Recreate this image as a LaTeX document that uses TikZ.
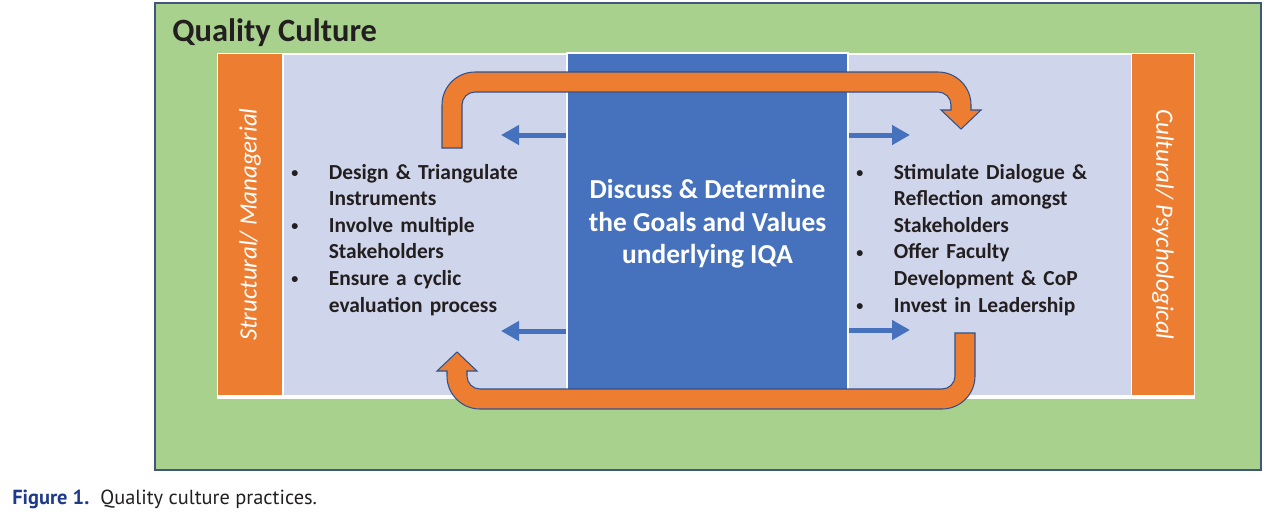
\documentclass[tikz,border=0pt]{standalone}
\usepackage{fontspec}
\setmainfont{Carlito}
\newfontfamily\captionfont{PT Sans}
\usetikzlibrary{arrows.meta,positioning}
\definecolor{culturegreen}{HTML}{A9D18E}
\definecolor{frameblue}{HTML}{41577A}
\definecolor{paneltint}{HTML}{CFD5EA}
\definecolor{goalblue}{HTML}{4671BC}
\definecolor{loopblue}{HTML}{2F528F}
\definecolor{dimorange}{HTML}{ED7D31}
\definecolor{inktext}{HTML}{231F20}
\definecolor{figblue}{HTML}{1F3A8A}
\tikzset{
	sidebar/.style={fill=dimorange, inner sep=0pt, minimum width=6.82cm, text=white, font=\fontsize{14.2}{17}\selectfont\itshape},
	goalbox/.style={fill=goalblue, draw=white, line width=0.8pt, minimum width=5.62cm, minimum height=6.74cm, inner sep=0pt, text depth=0pt, align=center, text=white, font=\fontsize{15.6}{18.5}\selectfont\bfseries},
	practices/.style={anchor=base west, text width=5.6cm, align=left, inner sep=0pt, text=inktext, font=\fontsize{12.2}{15.14}\selectfont\bfseries},
	spread/.style={draw=goalblue, line width=0.1cm, -{Triangle[width=0.38cm,length=0.36cm]}},
	loop/.style={fill=dimorange, draw=loopblue, line width=0.6pt},
}
\newcommand{\practice}[1]{\makebox[0.75cm][l]{\raisebox{0.9pt}{\fontsize{8}{8}\selectfont\textbullet}}#1}
\newcommand{\carry}[1]{\hspace*{0.75cm}#1}

\begin{document}
\begin{tikzpicture}[x=0.02cm, y=-0.02cm]
	\useasboundingbox[fill=white] (0,0) rectangle (1266,512);
	\draw[fill=culturegreen, draw=frameblue, line width=0.6pt] (155,3) rectangle (1261,470);
	\node[anchor=base west, inner sep=0pt, text=inktext, font=\fontsize{18.5}{22}\selectfont\bfseries] (title) at (172,41) {Quality Culture};
	
	\fill[white] (217,53) rectangle (1195,399);
	\fill[paneltint] (283.5,54.5) rectangle (1130.5,395);
	\node[sidebar, rotate=90, minimum height=1.28cm] (structural) at (250,224.5) {Structural/ Managerial};
	\node[sidebar, rotate=-90, minimum height=1.24cm] (cultural) at (1163,224.5) {Cultural/ Psychological};
	\node[goalbox] (goals) at (707.5,221.5) {Discuss \& Determine\\the Goals and Values\\underlying IQA};
	
	\node[practices] (structlist) at (291,179) {\practice{Design \& Triangulate}\\ \carry{Instruments}\\ \practice{Involve multiple}\\ \carry{Stakeholders}\\ \practice{Ensure a cyclic}\\ \carry{evaluation process}};
	\node[practices] (culturelist) at (856,179) {\practice{Stimulate Dialogue \&}\\ \carry{Reflection amongst}\\ \carry{Stakeholders}\\ \practice{Offer Faculty}\\ \carry{Development \& CoP}\\ \practice{Invest in Leadership}};
	
	\coordinate (outTL) at (501,135);
	\coordinate (outBL) at (501,331);
	\coordinate (outTR) at (910,135);
	\coordinate (outBR) at (910,330);
	\draw[spread] (goals.west |- outTL) -- (outTL);
	\draw[spread] (goals.west |- outBL) -- (outBL);
	\draw[spread] (goals.east |- outTR) -- (outTR);
	\draw[spread] (goals.east |- outBR) -- (outBR);
	
	% feedback loops
	\filldraw[loop] (442,148) -- (442,105) arc[start angle=180, end angle=270, radius=33] -- (938,72) arc[start angle=270, end angle=360, radius=33] -- (971,110) -- (981,110) -- (961,129) -- (941,110) -- (951,110) -- (951,105) arc[start angle=0, end angle=-90, radius=13] -- (475,92) arc[start angle=270, end angle=180, radius=13] -- (462,148) -- cycle;
	\filldraw[loop] (955,333) -- (975,333) -- (975,376) arc[start angle=0, end angle=90, radius=33] -- (480,409) arc[start angle=90, end angle=180, radius=33] -- (447,371) -- (437,371) -- (457,352) -- (477,371) -- (467,371) -- (467,376) arc[start angle=180, end angle=90, radius=13] -- (942,389) arc[start angle=90, end angle=0, radius=13] -- cycle;
	
	\node[anchor=base west, inner sep=0pt, text=figblue, font=\captionfont\fontsize{11.6}{14}\selectfont\bfseries] (figlabel) at (12,504) {Figure 1.};
	\node[anchor=base west, inner sep=0pt, text=inktext, font=\captionfont\fontsize{11.6}{14}\selectfont] (figtext) at (100,504) {Quality culture practices.};
\end{tikzpicture}
\end{document}
